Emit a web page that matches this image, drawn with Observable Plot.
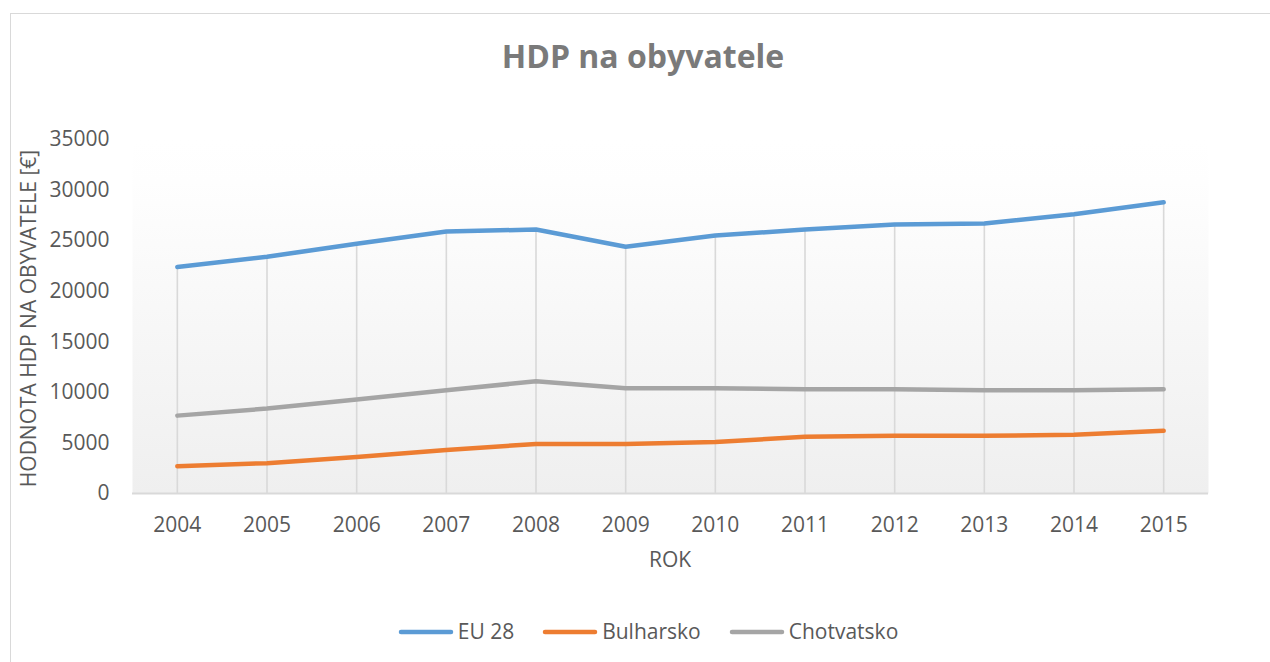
<!DOCTYPE html>
<html>
<head>
<meta charset="utf-8">
<script src="https://cdn.jsdelivr.net/npm/d3@7"></script>
<script src="https://cdn.jsdelivr.net/npm/@observablehq/plot@0.6"></script>
<style>
  body { margin: 0; background: #fff; font-family: "Open Sans", sans-serif; }
  #wrap { position: relative; width: 1270px; height: 662px; overflow: hidden; }
  #border { position: absolute; left: 10px; top: 13px; width: 1320px; height: 720px; border: 1px solid #d9d9d9; box-sizing: border-box; }
  #chart { position: absolute; left: 0; top: 0; }
  #title { position: absolute; left: 0; width: 1286px; top: 40px; text-align: center; font-size: 32px; line-height: 32px; font-weight: 700; color: #7a7a7a; }
  #ylabel { position: absolute; left: -172px; top: 308px; width: 400px; text-align: center; font-size: 21px; line-height: 21px; color: #595959; transform: rotate(-90deg); transform-origin: 200px 10.5px; white-space: nowrap; }
  #xlabel { position: absolute; left: 0; width: 1340px; top: 549px; text-align: center; font-size: 21px; line-height: 21px; color: #595959; }
  #legend { position: absolute; left: 0; width: 1296px; top: 621px; display: flex; justify-content: center; font-size: 21px; line-height: 21px; color: #595959; }
  .item { display: flex; align-items: center; margin: 0 14px; }
  .item svg { margin-right: 4px; }
</style>
</head>
<body>
<div id="wrap">
  <div id="border"></div>
  <div id="chart"></div>
  <div id="title">HDP na obyvatele</div>
  <div id="ylabel">HODNOTA HDP NA OBYVATELE [€]</div>
  <div id="xlabel">ROK</div>
  <div id="legend"></div>
</div>
<script>
const years = [2004, 2005, 2006, 2007, 2008, 2009, 2010, 2011, 2012, 2013, 2014, 2015];
const eu28 = [22400, 23400, 24700, 25900, 26100, 24400, 25500, 26100, 26600, 26700, 27600, 28800];
const bulharsko = [2700, 3000, 3600, 4300, 4900, 4900, 5100, 5600, 5700, 5700, 5800, 6200];
const chotvatsko = [7700, 8400, 9300, 10200, 11100, 10400, 10400, 10300, 10300, 10200, 10200, 10300];
const seriesNames = ["EU 28", "Bulharsko", "Chotvatsko"];
const seriesColors = ["#5b9bd5", "#ed7d31", "#a5a5a5"];
const yTicks = [0, 5000, 10000, 15000, 20000, 25000, 30000, 35000];

const seriesValues = [eu28, bulharsko, chotvatsko];
const data = [];
seriesNames.forEach((name, si) => {
  years.forEach((yr, i) => data.push({ year: yr, value: seriesValues[si][i], series: name }));
});
const dropData = years.map((yr, i) => ({ year: yr, max: d3.max(seriesValues, s => s[i]) }));

const svg = Plot.plot({
  width: 1270,
  height: 580,
  marginTop: 139,
  marginBottom: 87,
  marginLeft: 132,
  marginRight: 62,
  style: { fontFamily: "Open Sans, sans-serif", fontSize: "21px", color: "#595959", background: "transparent", overflow: "visible" },
  x: { type: "point", domain: years, padding: 0.5, round: false, tickSize: 0, tickPadding: 24, tickFormat: d3.format("d"), label: null },
  y: { domain: [0, 35000], ticks: yTicks, tickSize: 0, tickPadding: 23, tickFormat: d3.format("d"), label: null },
  color: { domain: seriesNames, range: seriesColors },
  marks: [
    Plot.frame({ fill: "url(#bgGrad)", stroke: "none" }),
    Plot.ruleX(dropData, { x: "year", y1: 0, y2: "max", stroke: "#d9d9d9", strokeWidth: 1.6 }),
    Plot.ruleY([0], { stroke: "#d9d9d9", strokeWidth: 2 }),
    Plot.line(data, { x: "year", y: "value", z: "series", stroke: "series", strokeWidth: 4.5, strokeLinecap: "round", strokeLinejoin: "round" })
  ]
});

const ns = "http://www.w3.org/2000/svg";
const defs = document.createElementNS(ns, "defs");
const grad = document.createElementNS(ns, "linearGradient");
grad.setAttribute("id", "bgGrad");
grad.setAttribute("x1", "0"); grad.setAttribute("y1", "0");
grad.setAttribute("x2", "0"); grad.setAttribute("y2", "1");
[["0", "#ffffff"], ["0.12", "#fefefe"], ["1", "#efefef"]].forEach(([o, c]) => {
  const s = document.createElementNS(ns, "stop");
  s.setAttribute("offset", o); s.setAttribute("stop-color", c);
  grad.appendChild(s);
});
defs.appendChild(grad);
svg.insertBefore(defs, svg.firstChild);
document.getElementById("chart").appendChild(svg);

const legend = document.getElementById("legend");
seriesNames.forEach((name, i) => {
  const item = document.createElement("div");
  item.className = "item";
  item.innerHTML = `<svg width="56" height="10"><line x1="3" y1="5" x2="53" y2="5" stroke="${seriesColors[i]}" stroke-width="4.5" stroke-linecap="round"/></svg><span>${name}</span>`;
  legend.appendChild(item);
});
</script>
</body>
</html>
